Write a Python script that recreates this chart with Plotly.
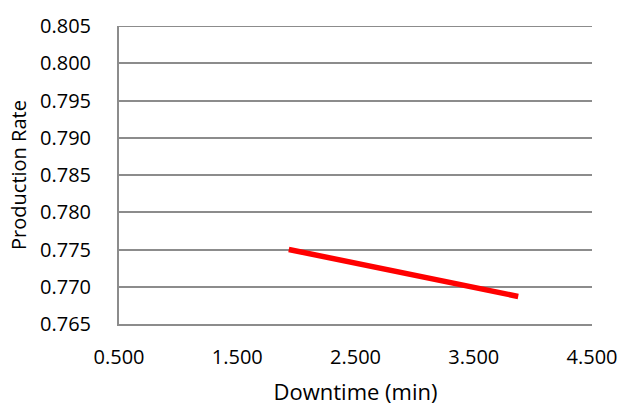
import plotly.graph_objects as go

downtime = [1.936, 3.876]
production_rate = [0.7750, 0.7687]
x_ticks = [0.5, 1.5, 2.5, 3.5, 4.5]
y_ticks = [0.765, 0.770, 0.775, 0.780, 0.785, 0.790, 0.795, 0.800, 0.805]

fig = go.Figure()
fig.add_trace(go.Scatter(x=downtime, y=production_rate, mode="lines",
                         line=dict(color="#FF0000", width=5.5), showlegend=False))

font = dict(family="Open Sans, sans-serif", size=20, color="#000000")
fig.update_layout(
    width=630, height=413,
    margin=dict(l=119, r=30, t=16.5, b=85.5),
    paper_bgcolor="white", plot_bgcolor="white",
    font=font,
)
fig.update_xaxes(range=[0.5, 4.5], tickvals=x_ticks, ticktext=[f"{v:.3f}" for v in x_ticks],
                 showgrid=False, zeroline=False, showline=True, linecolor="#8c8c8c", linewidth=2,
                 ticks="", ticklabelstandoff=14,
                 title=dict(text="Downtime (min)", font=dict(family="Open Sans, sans-serif", size=22, color="#000000"), standoff=16))
fig.update_yaxes(range=[0.765, 0.805], tickvals=y_ticks, ticktext=[f"{v:.3f}" for v in y_ticks],
                 showgrid=True, gridcolor="#8c8c8c", gridwidth=2, zeroline=False,
                 showline=True, linecolor="#8c8c8c", linewidth=2,
                 ticks="", ticklabelstandoff=22,
                 title=dict(text="Production Rate", font=font, standoff=8))
fig.add_shape(type="line", xref="paper", yref="y", x0=0, x1=1, y0=0.805, y1=0.805,
              line=dict(color="#8c8c8c", width=2), layer="below")
fig.write_html("out.html")
